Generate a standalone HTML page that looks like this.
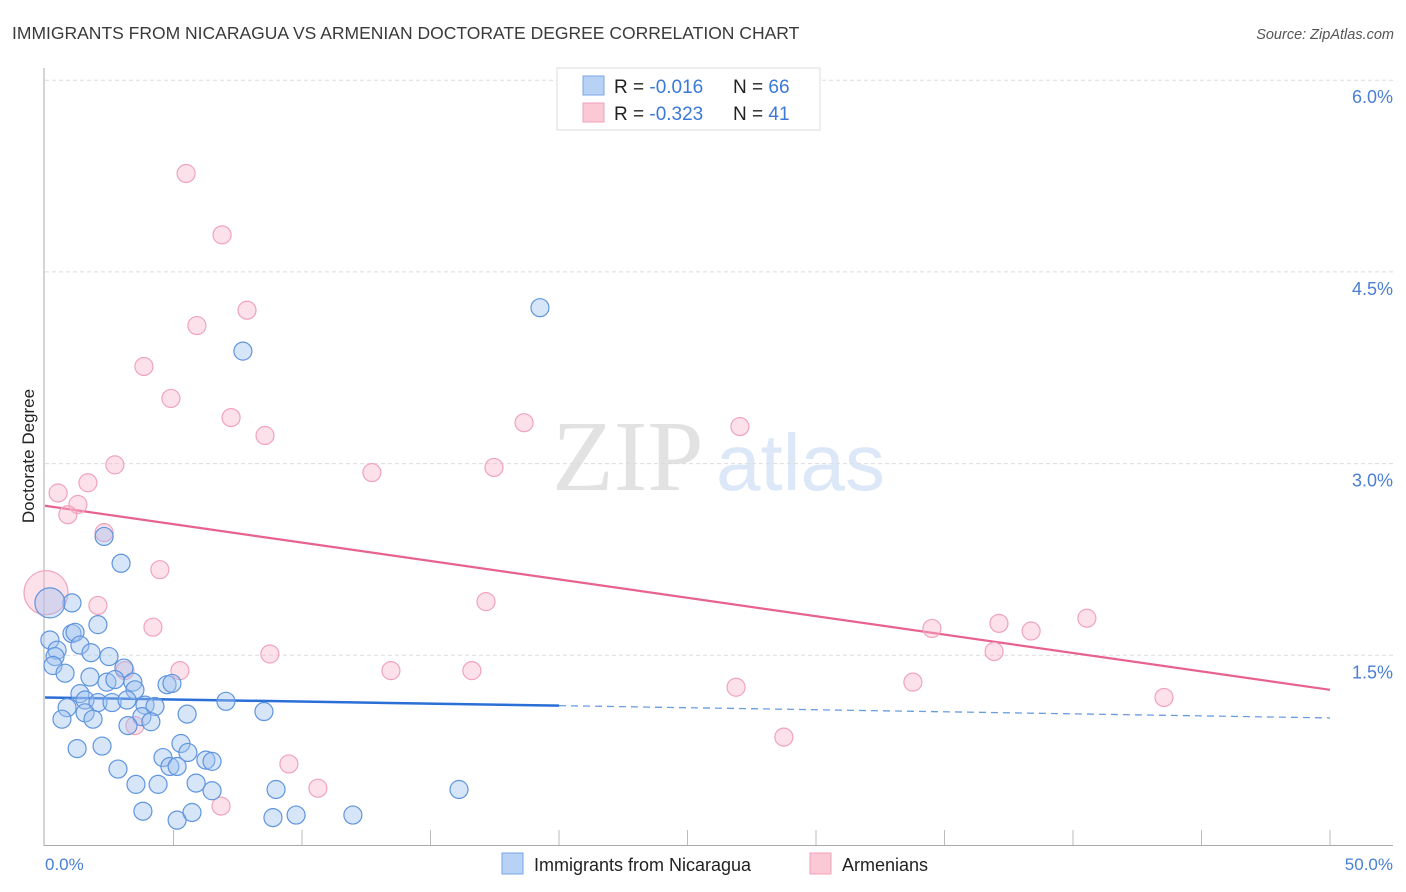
<!DOCTYPE html>
<html><head><meta charset="utf-8"><style>
body{margin:0;background:#fff;font-family:"Liberation Sans",sans-serif;}
svg{display:block}
</style></head><body>
<svg id="chart" width="1406" height="892">
<text x="12" y="39" font-size="17.5" fill="#3a3a3a">IMMIGRANTS FROM NICARAGUA VS ARMENIAN DOCTORATE DEGREE CORRELATION CHART</text>
<text x="1394" y="39" font-size="14.5" fill="#555" font-style="italic" text-anchor="end">Source: ZipAtlas.com</text>
<g>
<text x="552" y="490" font-family="Liberation Serif,serif" font-size="101" fill="#e2e2e2">ZIP</text>
<text x="716" y="490" font-size="80" fill="#dce8f7">atlas</text>
</g>
<g id="grid"></g>
<g id="axes"></g>
<g id="trend"></g>
<g id="pts"></g>
<text transform="translate(34,456) rotate(-90)" font-size="17" fill="#222" text-anchor="middle">Doctorate Degree</text>
<text x="45" y="870" font-size="17" fill="#4a7fd4">0.0%</text>
<text x="1393" y="870" font-size="17" fill="#4a7fd4" text-anchor="end">50.0%</text>
<g>
<rect x="557" y="68" width="263" height="62" fill="#fff" stroke="#ddd"/>
<rect x="583" y="76" width="21" height="19" fill="#b8d2f5" stroke="#7aa6e6"/>
<rect x="583" y="103" width="21" height="19" fill="#fbc8d6" stroke="#f0a0b8"/>
<text x="614" y="93" font-size="19" fill="#222">R = <tspan fill="#3b78d8">-0.016</tspan><tspan x="733">N = </tspan><tspan fill="#3b78d8">66</tspan></text>
<text x="614" y="120" font-size="19" fill="#222">R = <tspan fill="#3b78d8">-0.323</tspan><tspan x="733">N = </tspan><tspan fill="#3b78d8"> 41</tspan></text>
</g>
<g>
<rect x="502" y="853" width="21" height="21" fill="#b8d2f5" stroke="#7aa6e6"/>
<text x="534" y="871" font-size="18" fill="#222">Immigrants from Nicaragua</text>
<rect x="810" y="853" width="21" height="21" fill="#fbc8d6" stroke="#f0a0b8"/>
<text x="842" y="871" font-size="18" fill="#222">Armenians</text>
</g>
</svg>
<script>
const yTicks=[1.5,3.0,4.5,6.0];
const xTickCount=10;
const blueX=[1.05,2.06,2.96,2.30,0.19,0.19,1.05,1.17,1.36,0.47,0.39,0.31,0.78,1.79,2.49,3.07,1.75,2.41,2.72,3.42,3.50,4.75,4.94,1.36,1.56,2.06,2.61,3.19,3.89,4.28,7.04,8.52,5.53,0.86,0.66,1.56,1.87,3.77,4.12,3.23,1.25,2.22,5.29,5.56,4.59,4.86,5.14,6.26,6.50,2.84,3.54,4.40,5.88,6.50,8.99,3.81,5.14,5.72,8.87,9.77,11.98,19.26,7.70,16.11];
const blueY=[1.91,1.74,2.22,2.43,1.91,1.62,1.67,1.68,1.58,1.54,1.49,1.42,1.36,1.52,1.49,1.40,1.33,1.29,1.31,1.29,1.23,1.27,1.28,1.20,1.15,1.13,1.13,1.15,1.11,1.10,1.14,1.06,1.04,1.09,1.00,1.05,1.00,1.02,0.98,0.95,0.77,0.79,0.81,0.74,0.70,0.63,0.63,0.68,0.67,0.61,0.49,0.49,0.50,0.44,0.45,0.28,0.21,0.27,0.23,0.25,0.25,4.22,3.88,0.45];
const pinkX=[5.49,6.89,5.91,7.86,3.85,4.90,7.24,8.56,2.72,1.67,0.51,1.28,0.89,2.30,4.47,2.06,4.20,5.25,3.11,8.75,12.72,17.47,18.64,27.04,17.16,13.46,16.61,26.89,28.75,33.77,34.51,37.12,36.93,38.37,40.54,43.54,9.49,10.62,6.85,3.50,0.04];
const pinkY=[5.27,4.79,4.08,4.20,3.76,3.51,3.36,3.22,2.99,2.85,2.77,2.68,2.60,2.46,2.17,1.89,1.72,1.38,1.38,1.51,2.93,2.97,3.32,3.29,1.92,1.38,1.38,1.25,0.86,1.29,1.71,1.75,1.53,1.69,1.79,1.17,0.65,0.46,0.32,0.95,1.99];
const blueTrend=[1.17,1.01];
const pinkTrend=[2.67,1.23];
const blueSolidEnd=20;

const X0=45,X1=1330,Y0=847,PXPER=127.8;
const sx=v=>X0+(v/50)*(X1-X0);
const sy=v=>Y0-v*PXPER;
const NS="http://www.w3.org/2000/svg";
function mk(tag,attrs,parent){const e=document.createElementNS(NS,tag);for(const k in attrs)e.setAttribute(k,attrs[k]);parent.appendChild(e);return e;}
const grid=document.getElementById('grid'),axes=document.getElementById('axes'),trend=document.getElementById('trend'),pts=document.getElementById('pts');
yTicks.forEach(t=>{
  const l=mk('line',{x1:45,x2:1393,y1:sy(t),y2:sy(t),stroke:'#dcdcdc','stroke-dasharray':'4,3'},grid);
  
  
  const tx=mk('text',{x:1393,y:sy(t)+23,'font-size':18,fill:'#4a7fd4','text-anchor':'end'},grid);
  tx.textContent=t.toFixed(1)+'%';
  
  
});
const ax=mk('line',{x1:44,x2:44,y1:68,y2:846,stroke:'#aaa'},axes);


const bx=mk('line',{x1:44,x2:1393,y1:845.5,y2:845.5,stroke:'#aaa'},axes);


for(let i=1;i<=xTickCount;i++){
  const v=i*50/xTickCount;
  const t=mk('line',{x1:sx(v),x2:sx(v),y1:830,y2:845,stroke:'#bbb'},axes);
  
  
}
const tb=v=>blueTrend[0]+(blueTrend[1]-blueTrend[0])*v/50;
let l1=mk('line',{x1:sx(0),y1:sy(tb(0)),x2:sx(blueSolidEnd),y2:sy(tb(blueSolidEnd)),stroke:'#2a6fd6','stroke-width':2.5},trend);


let l2=mk('line',{x1:sx(blueSolidEnd),y1:sy(tb(blueSolidEnd)),x2:sx(50),y2:sy(tb(50)),stroke:'#6a9de0','stroke-width':1.3,'stroke-dasharray':'7,5'},trend);


let l3=mk('line',{x1:sx(0),y1:sy(pinkTrend[0]),x2:sx(50),y2:sy(pinkTrend[1]),stroke:'#e8628e','stroke-width':2.2},trend);


pinkX.forEach((x,i)=>{
  const big=(i===pinkX.length-1);
  const c=mk('circle',{cx:sx(x),cy:sy(pinkY[i]),r:big?22:9,fill:'rgba(249,180,202,0.4)',stroke:'#f0a3bb','stroke-width':1.2},pts);
  
  
});
blueX.forEach((x,i)=>{
  const big=(i===4);
  const c=mk('circle',{cx:sx(x),cy:sy(blueY[i]),r:big?15:9,fill:'rgba(160,194,240,0.42)',stroke:'#5f95de','stroke-width':1.2},pts);
  
  
});
</script>
</body></html>
